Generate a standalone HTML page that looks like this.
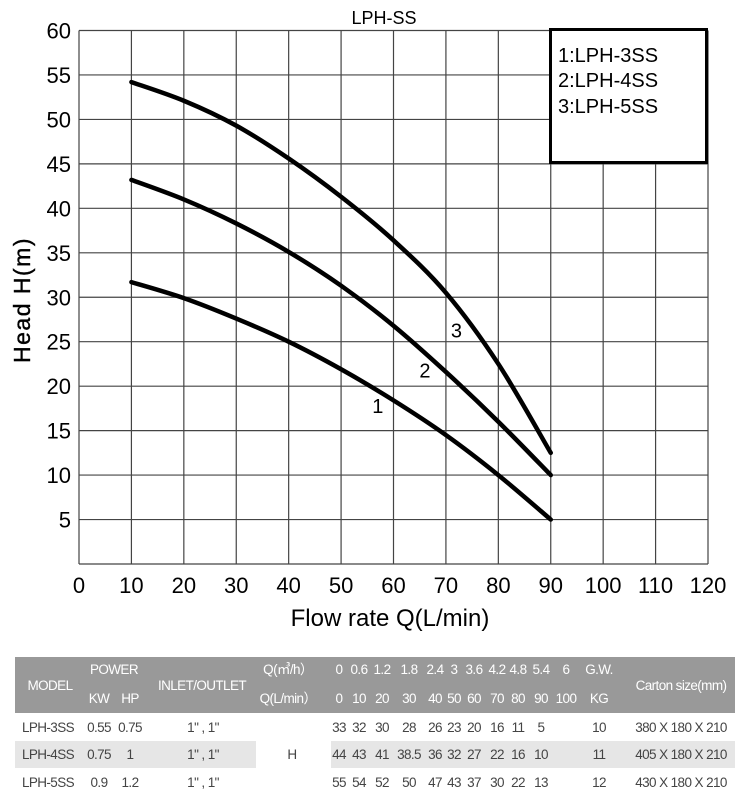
<!DOCTYPE html>
<html><head><meta charset="utf-8"><style>
body{margin:0;background:#fff;}
svg{display:block;font-family:"Liberation Sans",sans-serif;}
</style></head><body>
<svg id="c" width="747" height="808" viewBox="0 0 747 808">
<text x="384" y="24" font-size="18" text-anchor="middle">LPH-SS</text>
<g id="grid"></g>
<g id="ticks"></g>
<g id="curves"></g>
<text x="30" y="300" font-size="23" text-anchor="middle" transform="rotate(-90 30 300)" letter-spacing="1.5" stroke="#000" stroke-width="0.4">Head H(m)</text>
<text x="390" y="626" font-size="24" text-anchor="middle">Flow rate Q(L/min)</text>
<g>
<rect x="550.5" y="29.5" width="156" height="133" fill="#fff" stroke="#000" stroke-width="3"/>
<text x="558" y="62" font-size="20">1:LPH-3SS</text>
<text x="558" y="87" font-size="20">2:LPH-4SS</text>
<text x="558" y="113" font-size="20">3:LPH-5SS</text>
</g>
<g font-size="13.5" letter-spacing="-0.6" fill="#444">
<rect x="15" y="657" width="720" height="56" fill="#999"/>
<rect x="15" y="741" width="241" height="27" fill="#e6e6e6"/>
<rect x="331" y="741" width="404" height="27" fill="#e6e6e6"/>
<g fill="#fff" text-anchor="middle">
<text x="50" y="690">MODEL</text><text x="114" y="674">POWER</text>
<text x="99" y="703">KW</text><text x="130" y="703">HP</text>
<text x="202" y="690">INLET/OUTLET</text>
<text x="288" y="674">Q(㎥/h）</text><text x="288" y="703">Q(L/min）</text>
<text x="339" y="674">0</text><text x="359" y="674">0.6</text><text x="382" y="674">1.2</text><text x="409" y="674">1.8</text><text x="435" y="674">2.4</text><text x="454" y="674">3</text><text x="474" y="674">3.6</text><text x="497" y="674">4.2</text><text x="518" y="674">4.8</text><text x="541" y="674">5.4</text><text x="566" y="674">6</text><text x="599" y="674">G.W.</text>
<text x="339" y="703">0</text><text x="359" y="703">10</text><text x="382" y="703">20</text><text x="409" y="703">30</text><text x="435" y="703">40</text><text x="454" y="703">50</text><text x="474" y="703">60</text><text x="497" y="703">70</text><text x="518" y="703">80</text><text x="541" y="703">90</text><text x="566" y="703">100</text><text x="599" y="703">KG</text>
<text x="681" y="690">Carton size(mm)</text>
</g>
<g text-anchor="middle">
<text x="48" y="732">LPH-3SS</text><text x="99" y="732">0.55</text><text x="130" y="732">0.75</text><text x="203" y="732">1" , 1"</text>
<text x="339" y="732">33</text><text x="359" y="732">32</text><text x="382" y="732">30</text><text x="409" y="732">28</text><text x="435" y="732">26</text><text x="454" y="732">23</text><text x="474" y="732">20</text><text x="497" y="732">16</text><text x="518" y="732">11</text><text x="541" y="732">5</text><text x="599" y="732">10</text><text x="681" y="732">380 X 180 X 210</text>
<text x="48" y="759">LPH-4SS</text><text x="99" y="759">0.75</text><text x="130" y="759">1</text><text x="203" y="759">1" , 1"</text><text x="292" y="759">H</text>
<text x="339" y="759">44</text><text x="359" y="759">43</text><text x="382" y="759">41</text><text x="409" y="759">38.5</text><text x="435" y="759">36</text><text x="454" y="759">32</text><text x="474" y="759">27</text><text x="497" y="759">22</text><text x="518" y="759">16</text><text x="541" y="759">10</text><text x="599" y="759">11</text><text x="681" y="759">405 X 180 X 210</text>
<text x="48" y="787">LPH-5SS</text><text x="99" y="787">0.9</text><text x="130" y="787">1.2</text><text x="203" y="787">1" , 1"</text>
<text x="339" y="787">55</text><text x="359" y="787">54</text><text x="382" y="787">52</text><text x="409" y="787">50</text><text x="435" y="787">47</text><text x="454" y="787">43</text><text x="474" y="787">37</text><text x="497" y="787">30</text><text x="518" y="787">22</text><text x="541" y="787">13</text><text x="599" y="787">12</text><text x="681" y="787">430 X 180 X 210</text>
</g>
</g>
</svg>
<script>
const flow = [10,20,30,40,50,60,70,80,90];
const head3ss = [31.7,29.9,27.6,25,21.9,18.4,14.5,10,5];
const head4ss = [43.2,41,38.3,35.1,31.3,26.8,21.6,16,10];
const head5ss = [54.2,52.1,49.3,45.6,41.3,36.4,30.5,22.5,12.5];
const xTicks = [0,10,20,30,40,50,60,70,80,90,100,110,120];
const yTicks = [5,10,15,20,25,30,35,40,45,50,55,60];
const seriesLabels = ["1","2","3"];
const labelAt = [[57,17],[66,21],[72,25.5]];

const X0=79,X1=708,Y0=564,Y1=30.5;
const xs=v=>X0+(v/120)*(X1-X0);
const ys=v=>Y0-(v/60)*(Y0-Y1);
const NS="http://www.w3.org/2000/svg";
function mk(tag,attrs,parent){const e=document.createElementNS(NS,tag);for(const k in attrs)e.setAttribute(k,attrs[k]);parent.appendChild(e);return e;}
const grid=document.getElementById('grid'),ticks=document.getElementById('ticks'),curves=document.getElementById('curves');
xTicks.forEach(t=>{
 const l=mk('line',{x1:xs(t),x2:xs(t),y1:Y1,y2:Y0,stroke:'#444','stroke-width':1.2},grid);
 
 
 const tx=mk('text',{x:xs(t),y:593,'font-size':22,'text-anchor':'middle'},ticks);
 tx.textContent=t;
 
 
});
[0].concat(yTicks).forEach(t=>{
 const l=mk('line',{x1:X0,x2:X1,y1:ys(t),y2:ys(t),stroke:'#444','stroke-width':1.2},grid);
 
 
});
yTicks.forEach(t=>{
 const tx=mk('text',{x:71,y:ys(t)+8,'font-size':22,'text-anchor':'end'},ticks);
 tx.textContent=t;
 
 
});
function smooth(pts){let d=`M${pts[0][0]},${pts[0][1]}`;for(let i=0;i<pts.length-1;i++){const p0=pts[i-1]||pts[i],p1=pts[i],p2=pts[i+1],p3=pts[i+2]||p2;d+=` C${p1[0]+(p2[0]-p0[0])/6},${p1[1]+(p2[1]-p0[1])/6} ${p2[0]-(p3[0]-p1[0])/6},${p2[1]-(p3[1]-p1[1])/6} ${p2[0]},${p2[1]}`;}return d;}
[head3ss,head4ss,head5ss].forEach((s,i)=>{
 const p=mk('path',{d:smooth(flow.map((f,j)=>[xs(f),ys(s[j])])),fill:'none',stroke:'#000','stroke-width':4.5,'stroke-linecap':'round'},curves);
 
 
 const t=mk('text',{x:xs(labelAt[i][0]),y:ys(labelAt[i][1]),'font-size':20,'text-anchor':'middle'},curves);
 t.textContent=seriesLabels[i];
 
 
});
</script>
</body></html>
